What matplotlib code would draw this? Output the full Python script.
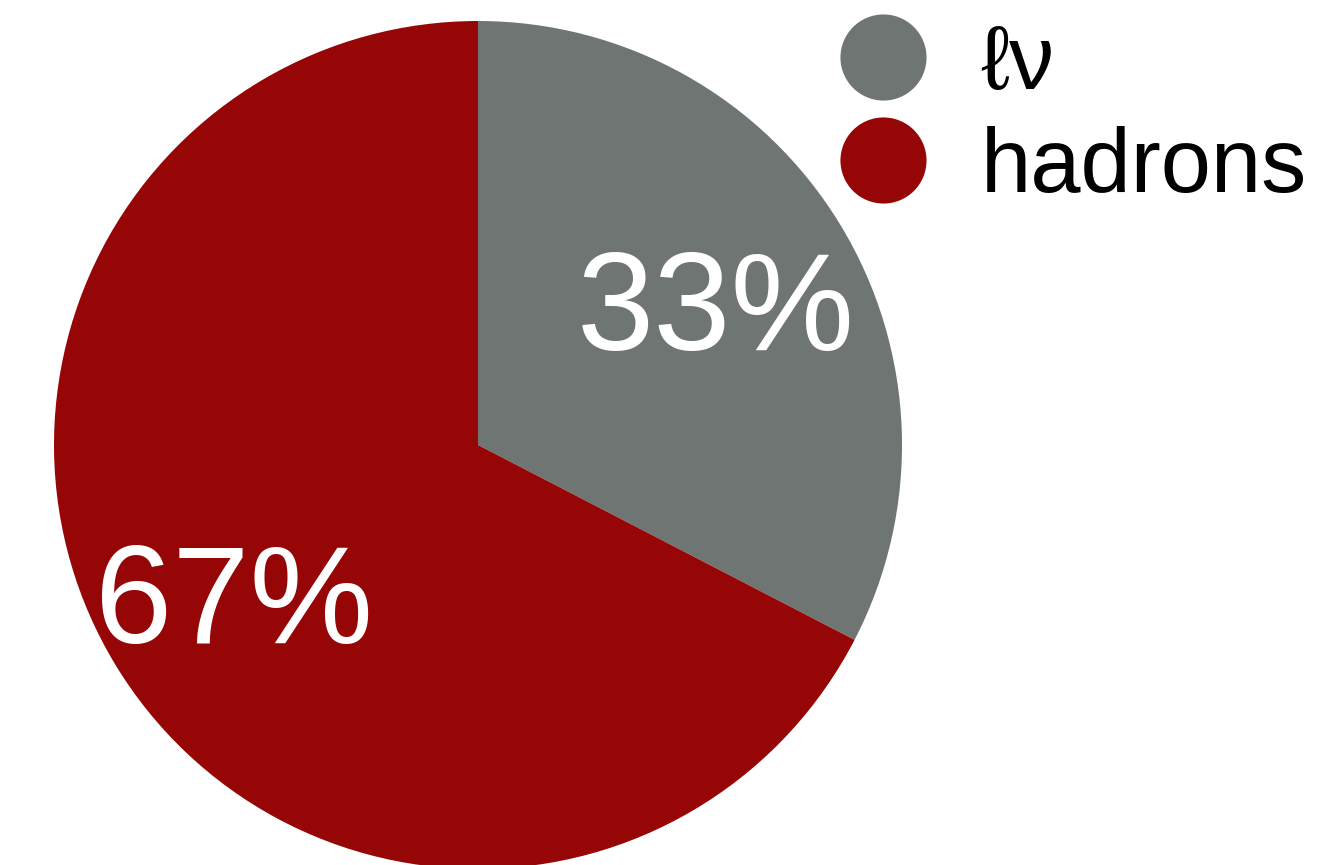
import matplotlib.pyplot as plt
from matplotlib.lines import Line2D

# W boson decay branching fractions (%)
labels = ['ℓν', 'hadrons']
fractions = [32.6, 67.4]
colors = ['#6f7572', '#970606']

plt.rcParams['font.family'] = ['Liberation Sans', 'DejaVu Sans']

fig = plt.figure(figsize=(13.22, 8.65), dpi=100)
# pie centred at (478, 445) px with a radius of 424 px
r_px = 424
ax = fig.add_axes([(478 - r_px) / 1322, (865 - 445 - r_px) / 865,
                   2 * r_px / 1322, 2 * r_px / 865])

wedges, texts, autotexts = ax.pie(fractions, colors=colors, startangle=90,
                                  counterclock=False, autopct='%.0f%%',
                                  pctdistance=0.665,
                                  textprops={'color': 'white', 'fontsize': 100})
# nudge the percentage labels down a little
for t in autotexts:
    x, y = t.get_position()
    t.set_position((x - 0.008, y - 0.037))
ax.set_xlim(-1, 1)
ax.set_ylim(-1, 1)
ax.set_aspect('equal')

handles = [Line2D([], [], linestyle='none', marker='o', markersize=62,
                  markerfacecolor=c, markeredgecolor='none') for c in colors]
fig.legend(handles, labels, loc='upper left', bbox_to_anchor=(838 / 1322, 1 - 23 / 865),
           frameon=False, fontsize=65, borderpad=0, labelspacing=0.2,
           handlelength=1.0, handletextpad=0.58, borderaxespad=0)

fig.savefig('out.png', dpi=100)
